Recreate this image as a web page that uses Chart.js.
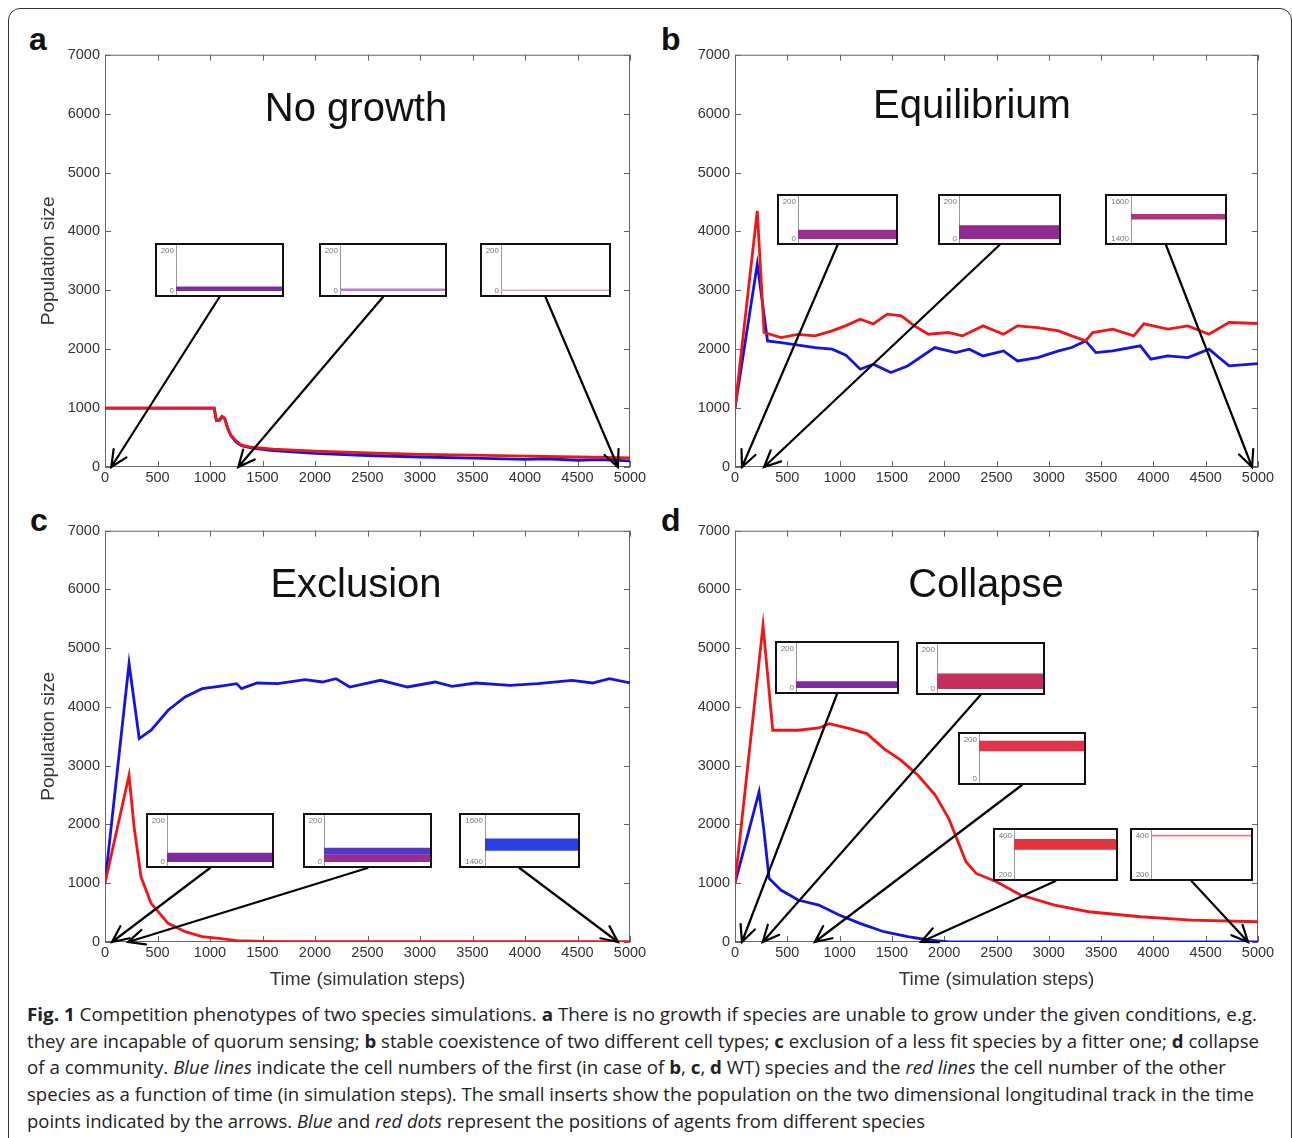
<!DOCTYPE html>
<html>
<head>
<meta charset="utf-8">
<script src="https://cdn.jsdelivr.net/npm/chart.js@4.4.0/dist/chart.umd.min.js"></script>
<style>
  body { margin: 0; background: #fff; width: 1292px; height: 1138px; overflow: hidden; position: relative; font-family: "Liberation Sans", Arial, sans-serif; }
  #frame { position: absolute; left: 8px; top: 8px; width: 1284px; height: 1200px; border: 1.5px solid #333; border-radius: 12px; box-sizing: border-box; }
  .letter { position: absolute; font: bold 32px "Liberation Sans", Arial, sans-serif; line-height: 1; color: #111; }
  .ptitle { position: absolute; font: 40px "Liberation Sans", Arial, sans-serif; line-height: 1; white-space: nowrap; transform: translateX(-50%); color: #111; }
  .inset { position: absolute; border: 2px solid #111; box-sizing: border-box; background: #fff; }
  .inset canvas { display: block; }
  .cap { position: absolute; left: 27px; font-family: "Open Sans", sans-serif; font-size: 18.5px; line-height: 20px; white-space: nowrap; transform-origin: 0 0; color: #222; }
</style>
</head>
<body>
<div id="frame"></div>

<div class="letter" style="left:29px;top:23px">a</div>
<div class="letter" style="left:661px;top:23px">b</div>
<div class="letter" style="left:30px;top:504px">c</div>
<div class="letter" style="left:661px;top:504px">d</div>

<div class="cap" style="top:1004px" data-w="1230"><b>Fig. 1</b> Competition phenotypes of two species simulations. <b>a</b> There is no growth if species are unable to grow under the given conditions, e.g.</div>
<div class="cap" style="top:1031px" data-w="1232">they are incapable of quorum sensing; <b>b</b> stable coexistence of two different cell types; <b>c</b> exclusion of a less fit species by a fitter one; <b>d</b> collapse</div>
<div class="cap" style="top:1057px" data-w="1199">of a community. <i>Blue lines</i> indicate the cell numbers of the first (in case of <b>b</b>, <b>c</b>, <b>d</b> WT) species and the <i>red lines</i> the cell number of the other</div>
<div class="cap" style="top:1084px" data-w="1227">species as a function of time (in simulation steps). The small inserts show the population on the two dimensional longitudinal track in the time</div>
<div class="cap" style="top:1111px" data-w="898">points indicated by the arrows. <i>Blue</i> and <i>red dots</i> represent the positions of agents from different species</div>

<script>
// ---- data ----
const panelTitles = ["No growth", "Equilibrium", "Exclusion", "Collapse"];

// a: no growth
const aBlueT = [0, 1040, 1060, 1090, 1115, 1140, 1170, 1200, 1250, 1300, 1400, 1600, 2000, 2500, 3000, 3500, 4000, 4200, 4500, 4700, 5000];
const aBlueV = [1000, 1000, 790, 800, 860, 830, 650, 530, 420, 360, 320, 280, 230, 195, 170, 150, 128, 140, 115, 125, 105];
const aRedT = [0, 1040, 1060, 1090, 1115, 1140, 1170, 1200, 1250, 1300, 1400, 1600, 2000, 2500, 3000, 3500, 4000, 4500, 5000];
const aRedV = [1000, 1000, 800, 790, 850, 820, 650, 540, 440, 370, 335, 305, 270, 240, 215, 200, 185, 170, 155];

// b: equilibrium
const bBlueT = [0, 213, 311, 441, 766, 929, 1060, 1197, 1322, 1490, 1650, 1910, 2110, 2240, 2371, 2567, 2701, 2893, 3094, 3218, 3352, 3450, 3611, 3875, 3975, 4138, 4330, 4531, 4723, 5000];
const bBlueV = [1000, 3445, 2141, 2113, 2028, 2000, 1900, 1660, 1745, 1603, 1716, 2028, 1943, 2000, 1886, 1971, 1801, 1858, 1971, 2028, 2141, 1943, 1971, 2056, 1830, 1886, 1858, 2000, 1716, 1756];
const bRedT = [0, 213, 278, 441, 600, 766, 929, 1060, 1197, 1322, 1456, 1590, 1715, 1849, 2041, 2175, 2371, 2567, 2701, 2893, 3094, 3218, 3352, 3419, 3611, 3812, 3908, 4138, 4330, 4531, 4723, 5000];
const bRedV = [1000, 4350, 2283, 2198, 2250, 2227, 2312, 2400, 2510, 2430, 2594, 2566, 2396, 2254, 2283, 2226, 2396, 2254, 2396, 2368, 2312, 2226, 2141, 2283, 2340, 2226, 2430, 2340, 2396, 2254, 2453, 2436];

// c: exclusion
const cBlueT = [0, 229, 326, 439, 601, 763, 925, 1087, 1254, 1300, 1449, 1645, 1906, 2070, 2200, 2330, 2624, 2882, 3144, 3306, 3531, 3860, 4122, 4447, 4642, 4804, 5000];
const cBlueV = [1000, 4738, 3463, 3604, 3944, 4170, 4312, 4352, 4397, 4312, 4408, 4397, 4465, 4425, 4482, 4340, 4454, 4340, 4425, 4352, 4408, 4369, 4397, 4454, 4408, 4482, 4408];
const cRedT = [0, 229, 277, 343, 439, 601, 763, 925, 1087, 1254, 1500, 1800, 5000];
const cRedV = [1000, 2838, 1960, 1110, 657, 318, 175, 91, 62, 23, 10, 5, 5];

// d: collapse
const dBlueT = [0, 230, 278, 326, 439, 603, 801, 996, 1194, 1423, 1652, 1849, 2044, 5000];
const dBlueV = [1000, 2555, 1875, 1082, 884, 714, 629, 459, 318, 175, 91, 34, 0, 0];
const dRedT = [0, 268, 361, 603, 801, 900, 1097, 1260, 1423, 1586, 1750, 1914, 2044, 2107, 2208, 2306, 2500, 2730, 3056, 3381, 3876, 4365, 5000];
const dRedV = [1000, 5389, 3604, 3604, 3643, 3717, 3632, 3547, 3292, 3094, 2838, 2499, 2102, 1819, 1365, 1167, 1025, 799, 629, 515, 430, 374, 345];

// arrows point at these time steps
const aArrowT = [60, 1270, 4885];
const bArrowT = [67, 278, 4943];
const cArrowT = [67, 220, 4885];
const dArrowT = [66, 265, 763, 1779, 4905];

// insets: axis ticks [low, high] and bands of dots [low, high, colour]
const aInsetAxis = [[0, 200], [0, 200], [0, 200]];
const aInsetBands = [[[0, 22, "#7d2f9f"]], [[0, 12, "#b67cc8"]], [[0, 8, "#dcaac8"]]];
const bInsetAxis = [[0, 200], [0, 200], [1400, 1600]];
const bInsetBands = [[[0, 50, "#9a2f8e"]], [[0, 75, "#8f2a92"]], [[1505, 1535, "#b0337c"]]];
const cInsetAxis = [[0, 200], [0, 200], [1400, 1600]];
const cInsetBands = [[[0, 45, "#7a2ca0"]], [[35, 70, "#5636c8"], [0, 35, "#9a2c8c"]], [[1455, 1515, "#2a40e0"]]];
const dInsetAxis = [[0, 200], [0, 200], [0, 200], [200, 400], [200, 400]];
const dInsetBands = [[[0, 35, "#7a2ca0"]], [[0, 80, "#c4305e"]], [[142, 196, "#e0344a"]], [[330, 385, "#e2343f"]], [[398, 406, "#e07a8a"]]];

// ---- layout ----
const plotBoxes = {
  a: { l: 105, t: 53, r: 630, b: 467 },
  b: { l: 735, t: 53, r: 1258, b: 467 },
  c: { l: 105, t: 529, r: 630, b: 942 },
  d: { l: 735, t: 529, r: 1258, b: 942 }
};
const insetBoxes = {
  a: [[155, 243, 129, 54], [319, 243, 128, 54], [480, 243, 131, 54]],
  b: [[777, 194, 121, 51], [938, 194, 123, 51], [1105, 194, 122, 51]],
  c: [[146, 813, 128, 55], [303, 813, 129, 55], [459, 813, 121, 55]],
  d: [[775, 641, 124, 53], [916, 642, 129, 53], [958, 732, 128, 53], [993, 828, 125, 53], [1130, 828, 123, 53]]
};
const titlePos = [[356, 87], [972, 84], [356, 563], [986, 563]];

function toXY(ts, vs) {
  return ts.map((t, i) => ({ x: t, y: vs[i] }));
}

function makeMain(key, blue, red, arrowT, withYTitle, withXTitle) {
  const box = plotBoxes[key];
  const xH = withXTitle ? 52 : 26;
  const left = box.l - 70, top = box.t - 12;
  const w = box.r - box.l + 70 + 25;
  const h = box.b - box.t + 12 + xH;
  const cv = document.createElement("canvas");
  cv.width = w; cv.height = h;
  cv.style.cssText = `position:absolute;left:${left}px;top:${top}px;width:${w}px;height:${h}px`;
  document.body.appendChild(cv);

  // matlab style box with inward ticks + arrows to insets
  const boxPlugin = {
    id: "boxTicks",
    beforeDatasetsDraw(chart) {
      const { ctx, chartArea: ca, scales } = chart;
      ctx.save();
      ctx.strokeStyle = "#666";
      ctx.lineWidth = 1;
      ctx.strokeRect(ca.left + 0.5, ca.top + 0.5, ca.right - ca.left - 1, ca.bottom - ca.top - 1);
      ctx.beginPath();
      scales.x.ticks.forEach(t => {
        const px = Math.round(scales.x.getPixelForValue(t.value)) + 0.5;
        ctx.moveTo(px, ca.bottom); ctx.lineTo(px, ca.bottom - 6);
        ctx.moveTo(px, ca.top); ctx.lineTo(px, ca.top + 6);
      });
      scales.y.ticks.forEach(t => {
        const py = Math.round(scales.y.getPixelForValue(t.value)) + 0.5;
        ctx.moveTo(ca.left, py); ctx.lineTo(ca.left + 6, py);
        ctx.moveTo(ca.right, py); ctx.lineTo(ca.right - 6, py);
      });
      ctx.stroke();
      ctx.restore();
    },
    afterDatasetsDraw(chart) {
      const { ctx, scales } = chart;
      ctx.save();
      ctx.strokeStyle = "#000";
      ctx.lineWidth = 2.2;
      ctx.lineCap = "round";
      arrowT.forEach((t, i) => {
        const ib = insetBoxes[key][i];
        const bx = ib[0] + ib[2] / 2 - left, by = ib[1] + ib[3] - top;
        const tx = scales.x.getPixelForValue(t), ty = scales.y.getPixelForValue(0);
        const ang = Math.atan2(by - ty, bx - tx);
        const L = 18, spread = 25 * Math.PI / 180;
        ctx.beginPath();
        ctx.moveTo(bx, by); ctx.lineTo(tx, ty);
        ctx.moveTo(tx + L * Math.cos(ang + spread), ty + L * Math.sin(ang + spread));
        ctx.lineTo(tx, ty);
        ctx.lineTo(tx + L * Math.cos(ang - spread), ty + L * Math.sin(ang - spread));
        ctx.stroke();
      });
      ctx.restore();
    }
  };

  // dataset 0 is drawn last, so red goes first to sit on top of blue
  new Chart(cv, {
    type: "line",
    data: {
      datasets: [
        { data: red, borderColor: "rgb(240,22,22)" },
        { data: blue, borderColor: "rgb(20,20,225)" }
      ]
    },
    options: {
      responsive: false,
      animation: false,
      layout: { padding: { top: 12, right: 25, left: 0, bottom: 0 } },
      plugins: { legend: { display: false }, tooltip: { enabled: false } },
      elements: { point: { radius: 0 }, line: { borderWidth: 2.8, tension: 0 } },
      scales: {
        x: {
          type: "linear", min: 0, max: 5000,
          ticks: { stepSize: 500, autoSkip: false, maxRotation: 0, padding: 2, color: "#333", font: { size: 14.5 }, callback: v => String(v) },
          grid: { display: false, drawTicks: false },
          border: { display: false },
          title: { display: withXTitle, text: "Time (simulation steps)", color: "#333", font: { size: 19 }, padding: { top: 0, bottom: 3 } },
          afterFit: s => { s.height = xH; }
        },
        y: {
          min: 0, max: 7000,
          ticks: { stepSize: 1000, padding: 5, color: "#333", font: { size: 14.5 }, callback: v => String(v) },
          grid: { display: false, drawTicks: false },
          border: { display: false },
          title: { display: withYTitle, text: "Population size", color: "#333", font: { size: 19 }, padding: { top: 2, bottom: 0 } },
          afterFit: s => { s.width = 70; }
        }
      }
    },
    plugins: [boxPlugin]
  });
}

function makeInset(box, axis, bands) {
  const div = document.createElement("div");
  div.className = "inset";
  div.style.left = box[0] + "px";
  div.style.top = box[1] + "px";
  div.style.width = box[2] + "px";
  div.style.height = box[3] + "px";
  const iw = box[2] - 4, ih = box[3] - 4;
  const cv = document.createElement("canvas");
  cv.width = iw; cv.height = ih;
  cv.style.width = iw + "px"; cv.style.height = ih + "px";
  div.appendChild(cv);
  document.body.appendChild(div);

  const lo = axis[0], hi = axis[1];
  const per = (hi - lo) / (ih - 6 - 4);
  const axisW = String(hi).length > 3 ? 24 : 19;

  new Chart(cv, {
    type: "line",
    data: {
      datasets: bands.map(b => ({
        data: [{ x: 0, y: b[1] }, { x: 1, y: b[1] }],
        borderWidth: 0,
        pointRadius: 0,
        fill: { value: b[0] },
        backgroundColor: b[2]
      }))
    },
    options: {
      responsive: false,
      animation: false,
      layout: { padding: 0 },
      plugins: { legend: { display: false }, tooltip: { enabled: false } },
      scales: {
        x: { type: "linear", min: 0, max: 1, display: false },
        y: {
          min: lo - 4 * per, max: hi + 6 * per,
          afterBuildTicks: s => { s.ticks = [{ value: lo }, { value: hi }]; },
          ticks: { font: { size: 8 }, color: "#777", padding: 2, callback: v => String(v) },
          grid: { display: false, drawTicks: false },
          border: { display: true, color: "#999", width: 1 },
          afterFit: s => { s.width = axisW; s.paddingTop = 0; s.paddingBottom = 0; }
        }
      }
    }
  });
}

makeMain("a", toXY(aBlueT, aBlueV), toXY(aRedT, aRedV), aArrowT, true, false);
makeMain("b", toXY(bBlueT, bBlueV), toXY(bRedT, bRedV), bArrowT, false, false);
makeMain("c", toXY(cBlueT, cBlueV), toXY(cRedT, cRedV), cArrowT, true, true);
makeMain("d", toXY(dBlueT, dBlueV), toXY(dRedT, dRedV), dArrowT, false, true);

insetBoxes.a.forEach((b, i) => makeInset(b, aInsetAxis[i], aInsetBands[i]));
insetBoxes.b.forEach((b, i) => makeInset(b, bInsetAxis[i], bInsetBands[i]));
insetBoxes.c.forEach((b, i) => makeInset(b, cInsetAxis[i], cInsetBands[i]));
insetBoxes.d.forEach((b, i) => makeInset(b, dInsetAxis[i], dInsetBands[i]));

// panel titles
panelTitles.forEach((txt, i) => {
  const el = document.createElement("div");
  el.className = "ptitle";
  el.textContent = txt;
  el.style.left = titlePos[i][0] + "px";
  el.style.top = titlePos[i][1] + "px";
  document.body.appendChild(el);
});

// stretch each caption line to the width it has in the figure
document.querySelectorAll(".cap").forEach(el => {
  const w = el.getBoundingClientRect().width;
  const target = parseFloat(el.dataset.w);
  el.style.transform = `scaleX(${target / w})`;
});
</script>
</body>
</html>
